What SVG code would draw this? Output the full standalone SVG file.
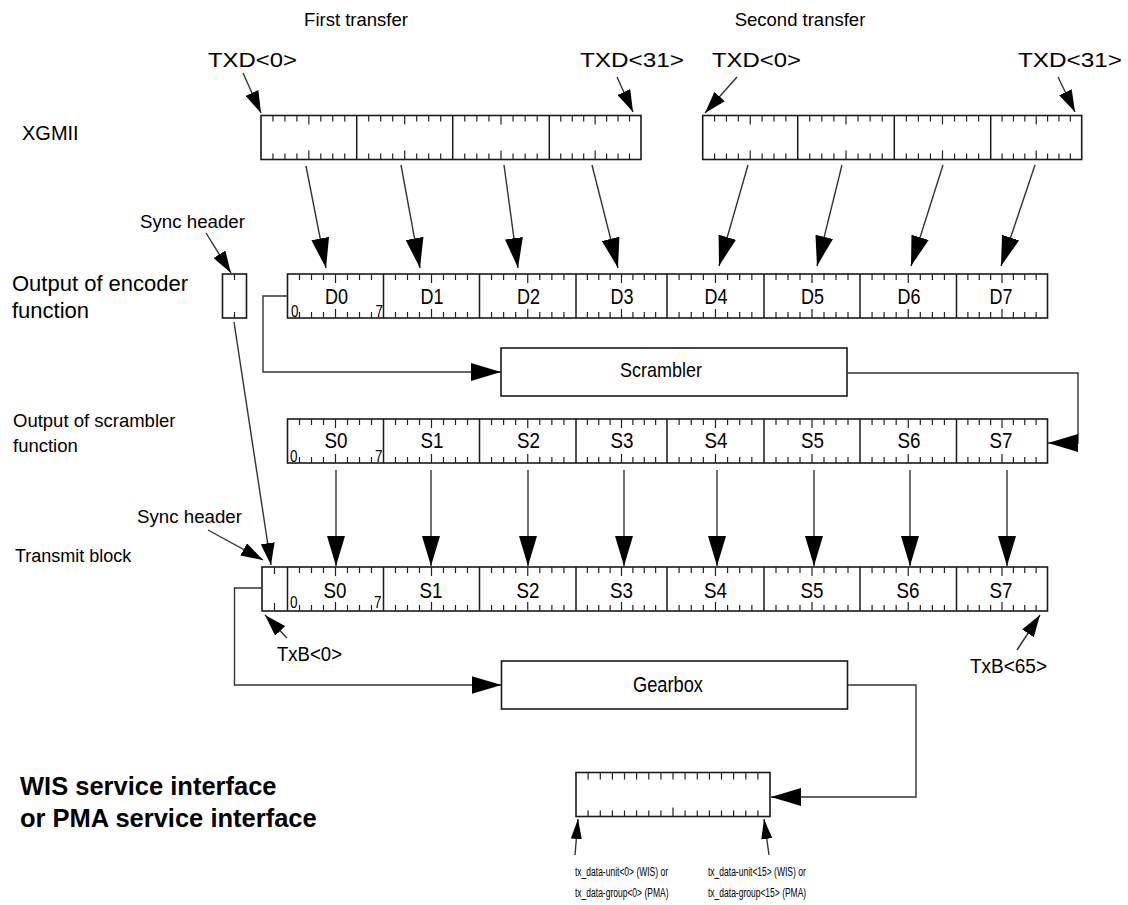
<svg xmlns="http://www.w3.org/2000/svg" xmlns:xlink="http://www.w3.org/1999/xlink" width="1128" height="905" viewBox="0 0 1128 905">
<style>
text{font-family:"Liberation Sans",Arial,Helvetica,sans-serif;fill:#000}
.reg{fill:#fff;stroke:#1a1a1a;stroke-width:1.6}
.dv{fill:none;stroke:#1a1a1a;stroke-width:1.5}
.tk{fill:none;stroke:#222;stroke-width:1.2}
.ln{fill:none;stroke:#333;stroke-width:1.4}
.big{marker-end:url(#aL)}
.med{marker-end:url(#aM)}
.sml{marker-end:url(#aS)}
.lab{font-size:22.5px;text-anchor:middle}
.bit{font-size:16px}
.sm{font-size:13.5px}
</style>
<defs>
<marker id="aL" markerUnits="userSpaceOnUse" markerWidth="30" markerHeight="18" viewBox="0 0 30 18" refX="30" refY="9" orient="auto"><path d="M0,0L30,9L0,18z" fill="#000"/></marker>
<marker id="aM" markerUnits="userSpaceOnUse" markerWidth="22" markerHeight="14" viewBox="0 0 22 14" refX="22" refY="7" orient="auto"><path d="M0,0L22,7L0,14z" fill="#000"/></marker>
<marker id="aS" markerUnits="userSpaceOnUse" markerWidth="20" markerHeight="11" viewBox="0 0 20 11" refX="20" refY="5.5" orient="auto"><path d="M0,0L20,5.5L0,11z" fill="#000"/></marker>
<path id="t8" class="tk" vector-effect="non-scaling-stroke" d="M12,0v6M24,0v6M36,0v6M48,0v9M60,0v6M72,0v6M84,0v6M12,44v-6M24,44v-6M36,44v-6M48,44v-9M60,44v-6M72,44v-6M84,44v-6"/>
</defs>
<rect width="1128" height="905" fill="#fff"/>

<!-- titles and side labels -->
<g id="titles">
<text x="356" y="26" font-size="18.5" text-anchor="middle">First transfer</text>
<text x="800" y="26" font-size="18.5" text-anchor="middle">Second transfer</text>
<text x="22" y="140" font-size="20">XGMII</text>
<text x="12" y="291" font-size="22">Output of encoder</text>
<text x="12" y="318" font-size="22">function</text>
<text x="13" y="427" font-size="18.5">Output of scrambler</text>
<text x="13" y="452" font-size="18.5">function</text>
<text x="15" y="562" font-size="18">Transmit block</text>
<text x="20" y="795" font-size="25.5" font-weight="bold">WIS service interface</text>
<text x="20" y="827" font-size="25.5" font-weight="bold">or PMA service interface</text>
</g>

<g id="pointer-labels">
<text x="208" y="67" font-size="21" textLength="89" lengthAdjust="spacingAndGlyphs">TXD&lt;0&gt;</text>
<text x="580" y="67" font-size="21" textLength="104" lengthAdjust="spacingAndGlyphs">TXD&lt;31&gt;</text>
<text x="712" y="67" font-size="21" textLength="89" lengthAdjust="spacingAndGlyphs">TXD&lt;0&gt;</text>
<text x="1018" y="67" font-size="21" textLength="104" lengthAdjust="spacingAndGlyphs">TXD&lt;31&gt;</text>
<text x="140" y="228" font-size="18.7">Sync header</text>
<text x="137" y="523" font-size="18.7">Sync header</text>
<text x="277" y="661" font-size="20.5" textLength="65" lengthAdjust="spacingAndGlyphs">TxB&lt;0&gt;</text>
<text x="970" y="673" font-size="20.5" textLength="77" lengthAdjust="spacingAndGlyphs">TxB&lt;65&gt;</text>
<text class="sm" transform="translate(575,876) scale(0.63,1)">tx_data-unit&lt;0&gt; (WIS) or</text>
<text class="sm" transform="translate(575,897) scale(0.63,1)">tx_data-group&lt;0&gt; (PMA)</text>
<text class="sm" transform="translate(708,876) scale(0.63,1)">tx_data-unit&lt;15&gt; (WIS) or</text>
<text class="sm" transform="translate(708,897) scale(0.63,1)">tx_data-group&lt;15&gt; (PMA)</text>
</g>

<!-- XGMII first transfer -->
<g id="xgmii-1">
<rect class="reg" x="261" y="115.5" width="380" height="44"/>
<path class="dv" d="M356.7,115.5v44M452.7,115.5v44M549.3,115.5v44"/>
<use xlink:href="#t8" transform="translate(261,115.5) scale(0.997,1)"/>
<use xlink:href="#t8" transform="translate(356.7,115.5)"/>
<use xlink:href="#t8" transform="translate(452.7,115.5) scale(1.006,1)"/>
<use xlink:href="#t8" transform="translate(549.3,115.5) scale(0.955,1)"/>
</g>

<!-- XGMII second transfer -->
<g id="xgmii-2">
<rect class="reg" x="702.7" y="115.5" width="379" height="44"/>
<path class="dv" d="M797.7,115.5v44M894.3,115.5v44M990.7,115.5v44"/>
<use xlink:href="#t8" transform="translate(702.7,115.5) scale(0.99,1)"/>
<use xlink:href="#t8" transform="translate(797.7,115.5) scale(1.006,1)"/>
<use xlink:href="#t8" transform="translate(894.3,115.5) scale(1.004,1)"/>
<use xlink:href="#t8" transform="translate(990.7,115.5) scale(0.948,1)"/>
</g>

<!-- encoder sync header -->
<g id="enc-sync">
<rect class="reg" x="222.5" y="274" width="24" height="44"/>
<path class="tk" d="M234.5,274v6M234.5,318v-6"/>
</g>

<!-- encoder output -->
<g id="encoder-output">
<rect class="reg" x="287.5" y="274" width="760" height="44"/>
<path class="dv" d="M383.5,274v44M479.5,274v44M576,274v44M667,274v44M764,274v44M860,274v44M956.5,274v44"/>
<use xlink:href="#t8" transform="translate(287.5,274)"/>
<use xlink:href="#t8" transform="translate(383.5,274)"/>
<use xlink:href="#t8" transform="translate(479.5,274) scale(1.005,1)"/>
<use xlink:href="#t8" transform="translate(576,274) scale(0.948,1)"/>
<use xlink:href="#t8" transform="translate(667,274) scale(1.01,1)"/>
<use xlink:href="#t8" transform="translate(764,274)"/>
<use xlink:href="#t8" transform="translate(860,274) scale(1.005,1)"/>
<use xlink:href="#t8" transform="translate(956.5,274) scale(0.948,1)"/>
<text class="lab" x="336.5" y="304" textLength="23" lengthAdjust="spacingAndGlyphs">D0</text>
<text class="lab" x="432" y="304" textLength="23" lengthAdjust="spacingAndGlyphs">D1</text>
<text class="lab" x="528.5" y="304" textLength="23" lengthAdjust="spacingAndGlyphs">D2</text>
<text class="lab" x="622" y="304" textLength="23" lengthAdjust="spacingAndGlyphs">D3</text>
<text class="lab" x="716" y="304" textLength="23" lengthAdjust="spacingAndGlyphs">D4</text>
<text class="lab" x="812.5" y="304" textLength="23" lengthAdjust="spacingAndGlyphs">D5</text>
<text class="lab" x="909" y="304" textLength="23" lengthAdjust="spacingAndGlyphs">D6</text>
<text class="lab" x="1001" y="304" textLength="23" lengthAdjust="spacingAndGlyphs">D7</text>
<text class="bit" x="291" y="316.5" textLength="7.5" lengthAdjust="spacingAndGlyphs">0</text>
<text class="bit" x="375.5" y="316.5" textLength="7.5" lengthAdjust="spacingAndGlyphs">7</text>
</g>

<!-- scrambler -->
<g id="scrambler">
<rect class="reg" x="501" y="348" width="346" height="48"/>
<text x="661" y="377" font-size="21" text-anchor="middle" textLength="82" lengthAdjust="spacingAndGlyphs">Scrambler</text>
</g>

<!-- scrambler output -->
<g id="scrambler-output">
<rect class="reg" x="287.5" y="419" width="760" height="44"/>
<path class="dv" d="M383.5,419v44M479.5,419v44M576,419v44M667,419v44M764,419v44M860,419v44M956.5,419v44"/>
<use xlink:href="#t8" transform="translate(287.5,419)"/>
<use xlink:href="#t8" transform="translate(383.5,419)"/>
<use xlink:href="#t8" transform="translate(479.5,419) scale(1.005,1)"/>
<use xlink:href="#t8" transform="translate(576,419) scale(0.948,1)"/>
<use xlink:href="#t8" transform="translate(667,419) scale(1.01,1)"/>
<use xlink:href="#t8" transform="translate(764,419)"/>
<use xlink:href="#t8" transform="translate(860,419) scale(1.005,1)"/>
<use xlink:href="#t8" transform="translate(956.5,419) scale(0.948,1)"/>
<text class="lab" x="336" y="448" textLength="23" lengthAdjust="spacingAndGlyphs">S0</text>
<text class="lab" x="432" y="448" textLength="23" lengthAdjust="spacingAndGlyphs">S1</text>
<text class="lab" x="528.5" y="448" textLength="23" lengthAdjust="spacingAndGlyphs">S2</text>
<text class="lab" x="622" y="448" textLength="23" lengthAdjust="spacingAndGlyphs">S3</text>
<text class="lab" x="716" y="448" textLength="23" lengthAdjust="spacingAndGlyphs">S4</text>
<text class="lab" x="812.5" y="448" textLength="23" lengthAdjust="spacingAndGlyphs">S5</text>
<text class="lab" x="909" y="448" textLength="23" lengthAdjust="spacingAndGlyphs">S6</text>
<text class="lab" x="1001" y="448" textLength="23" lengthAdjust="spacingAndGlyphs">S7</text>
<text class="bit" x="290" y="462" textLength="7.5" lengthAdjust="spacingAndGlyphs">0</text>
<text class="bit" x="375" y="462" textLength="7.5" lengthAdjust="spacingAndGlyphs">7</text>
</g>

<!-- transmit block -->
<g id="transmit-block">
<rect class="reg" x="262" y="567" width="785.5" height="44"/>
<path class="tk" d="M274.5,567v7M274.5,611v-8"/>
<path class="dv" d="M287.5,567v44" stroke-width="2.6"/>
<path class="dv" d="M383.5,567v44M479.5,567v44M576,567v44M667,567v44M764,567v44M860,567v44M956.5,567v44"/>
<use xlink:href="#t8" transform="translate(287.5,567)"/>
<use xlink:href="#t8" transform="translate(383.5,567)"/>
<use xlink:href="#t8" transform="translate(479.5,567) scale(1.005,1)"/>
<use xlink:href="#t8" transform="translate(576,567) scale(0.948,1)"/>
<use xlink:href="#t8" transform="translate(667,567) scale(1.01,1)"/>
<use xlink:href="#t8" transform="translate(764,567)"/>
<use xlink:href="#t8" transform="translate(860,567) scale(1.005,1)"/>
<use xlink:href="#t8" transform="translate(956.5,567) scale(0.948,1)"/>
<text class="lab" x="335" y="598" textLength="23" lengthAdjust="spacingAndGlyphs">S0</text>
<text class="lab" x="431" y="598" textLength="23" lengthAdjust="spacingAndGlyphs">S1</text>
<text class="lab" x="528" y="598" textLength="23" lengthAdjust="spacingAndGlyphs">S2</text>
<text class="lab" x="621.5" y="598" textLength="23" lengthAdjust="spacingAndGlyphs">S3</text>
<text class="lab" x="715.5" y="598" textLength="23" lengthAdjust="spacingAndGlyphs">S4</text>
<text class="lab" x="812" y="598" textLength="23" lengthAdjust="spacingAndGlyphs">S5</text>
<text class="lab" x="908" y="598" textLength="23" lengthAdjust="spacingAndGlyphs">S6</text>
<text class="lab" x="1001" y="598" textLength="23" lengthAdjust="spacingAndGlyphs">S7</text>
<text class="bit" x="290" y="608" textLength="7.5" lengthAdjust="spacingAndGlyphs">0</text>
<text class="bit" x="374" y="608" textLength="7.5" lengthAdjust="spacingAndGlyphs">7</text>
</g>

<!-- gearbox -->
<g id="gearbox">
<rect class="reg" x="501.5" y="661" width="346" height="48"/>
<text x="668" y="692" font-size="22" text-anchor="middle" textLength="70" lengthAdjust="spacingAndGlyphs">Gearbox</text>
</g>

<!-- service interface register -->
<g id="service-interface">
<rect class="reg" x="576" y="772.5" width="194" height="44"/>
<path class="tk" d="M588.1,772.5v7M600.3,772.5v7M612.4,772.5v7M624.5,772.5v7M636.6,772.5v7M648.8,772.5v7M660.9,772.5v7M673,772.5v7M685.1,772.5v7M697.3,772.5v7M709.4,772.5v7M721.5,772.5v7M733.6,772.5v7M745.8,772.5v7M757.9,772.5v7M588.1,816.5v-6M600.3,816.5v-6M612.4,816.5v-6M624.5,816.5v-6M636.6,816.5v-6M648.8,816.5v-6M660.9,816.5v-6M673,816.5v-9M685.1,816.5v-6M697.3,816.5v-6M709.4,816.5v-6M721.5,816.5v-6M733.6,816.5v-6M745.8,816.5v-6M757.9,816.5v-6"/>
</g>

<!-- connectors -->
<g id="connectors">
<path class="ln med" d="M243,73L261,113"/>
<path class="ln med" d="M617,77L633,112"/>
<path class="ln med" d="M737,77L705,113"/>
<path class="ln med" d="M1058,77L1075,112"/>
<path class="ln big" d="M306,166L326,268"/>
<path class="ln big" d="M401,165L420,268"/>
<path class="ln big" d="M504,165L518,268"/>
<path class="ln big" d="M592,165L618,268"/>
<path class="ln big" d="M748,165L719,266"/>
<path class="ln big" d="M842,165L817,266"/>
<path class="ln big" d="M943,165L911,266"/>
<path class="ln big" d="M1035,165L1001,266"/>
<path class="ln med" d="M206,233L231,273"/>
<path class="ln big" d="M287.5,296H263V372H501"/>
<path class="ln big" d="M847,373H1078V443H1048"/>
<path class="ln med" d="M234,322L271,565"/>
<path class="ln med" d="M208,530L263,560"/>
<path class="ln big" d="M336,470V566"/>
<path class="ln big" d="M431,470V566"/>
<path class="ln big" d="M528,470V566"/>
<path class="ln big" d="M624,470V566"/>
<path class="ln big" d="M717,470V566"/>
<path class="ln big" d="M814,470V566"/>
<path class="ln big" d="M910,470V566"/>
<path class="ln big" d="M1007,470V566"/>
<path class="ln med" d="M287,638L265,615"/>
<path class="ln med" d="M1017,650L1040,615"/>
<path class="ln big" d="M262,588H234.5V685H501.5"/>
<path class="ln big" d="M847.5,685H916V797H771"/>
<path class="ln sml" d="M575,855L578,819"/>
<path class="ln sml" d="M769,855L764,819"/>
</g>
</svg>
